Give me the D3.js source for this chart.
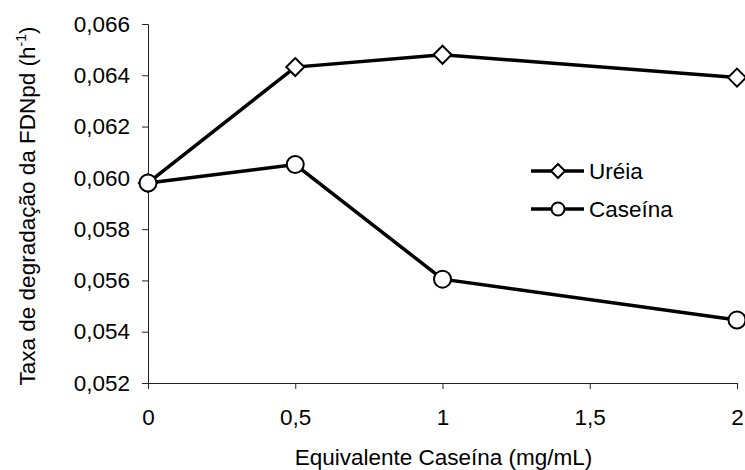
<!DOCTYPE html>
<html>
<head>
<meta charset="utf-8">
<script src="https://cdn.jsdelivr.net/npm/d3@7"></script>
<style>
  body { margin: 0; background: #fff; }
  text { font-family: "Liberation Sans", Arial, sans-serif; fill: #000; }
</style>
</head>
<body>
<div id="wrapper"></div>
<script>
// data
var doses = [0, 0.5, 1, 2];
var ureia = [0.0598, 0.06432, 0.0648, 0.06391];
var caseina = [0.0598, 0.06052, 0.05605, 0.05446];
var xTicks = [0, 0.5, 1, 1.5, 2];
var yTicks = [0.052, 0.054, 0.056, 0.058, 0.060, 0.062, 0.064, 0.066];
var seriesNames = ["Uréia", "Caseína"];

var dimension = {
    width: 745,
    height: 470,
    fontSize: "22.5px",
    margin: { top: 24, left: 148, bottom: 87, right: 8 }
};
dimension.boundedWidth = dimension.width - dimension.margin.left - dimension.margin.right;
dimension.boundedHeight = dimension.height - dimension.margin.top - dimension.margin.bottom;

const svg = d3.select("#wrapper")
    .append("svg")
    .attr("width", dimension.width)
    .attr("height", dimension.height);

const bounded = svg.append("g")
    .attr("transform", `translate(${dimension.margin.left},${dimension.margin.top})`);

const xScaler = d3.scaleLinear().domain([0, 2]).range([0, dimension.boundedWidth]);
const yScaler = d3.scaleLinear().domain([0.052, 0.066]).range([dimension.boundedHeight, 0]);

const yAxis = bounded.append("g")
    .call(d3.axisLeft(yScaler).tickValues(yTicks).tickSize(6).tickPadding(12)
        .tickFormat(d => d3.format(".3f")(d).replace(".", ",")));
const xAxis = bounded.append("g")
    .attr("transform", `translate(0,${dimension.boundedHeight})`)
    .call(d3.axisBottom(xScaler).tickValues(xTicks).tickSize(6).tickPadding(20)
        .tickFormat(d => String(d).replace(".", ",")));

[yAxis, xAxis].forEach(a => {
    a.select(".domain").attr("stroke", "#222").attr("stroke-width", 1);
    a.selectAll(".tick line").attr("stroke", "#222");
    a.selectAll(".tick text").style("font-size", dimension.fontSize).attr("fill", "#000");
});

// axis titles
svg.append("text")
    .attr("x", dimension.margin.left + dimension.boundedWidth / 2 + 1)
    .attr("y", 465)
    .attr("text-anchor", "middle")
    .style("font-size", dimension.fontSize)
    .text("Equivalente Caseína (mg/mL)");

const yTitle = svg.append("text")
    .attr("transform", "translate(35,206) rotate(-90)")
    .attr("text-anchor", "middle")
    .style("font-size", dimension.fontSize);
yTitle.append("tspan").text("Taxa de degradação da FDNpd (h");
yTitle.append("tspan").attr("dy", -9).style("font-size", "14px").text("-1");
yTitle.append("tspan").attr("dy", 9).text(")");

const line = d3.line().x((d, i) => xScaler(doses[i])).y(d => yScaler(d));

function drawSeries(values, shape) {
    bounded.append("path")
        .datum(values)
        .attr("d", line)
        .attr("fill", "none")
        .attr("stroke", "#000")
        .attr("stroke-width", 3.5);
    const g = bounded.append("g");
    if (shape === "diamond") {
        g.selectAll("path")
            .data(values)
            .enter()
            .append("path")
            .attr("d", "M0,-9L9,0L0,9L-9,0Z")
            .attr("transform", (d, i) => `translate(${xScaler(doses[i])},${yScaler(d)})`)
            .attr("fill", "#fff")
            .attr("stroke", "#000")
            .attr("stroke-width", 2);
    } else {
        g.selectAll("circle")
            .data(values)
            .enter()
            .append("circle")
            .attr("r", 8.5)
            .attr("cx", (d, i) => xScaler(doses[i]))
            .attr("cy", d => yScaler(d))
            .attr("fill", "#fff")
            .attr("stroke", "#000")
            .attr("stroke-width", 2);
    }
}

drawSeries(ureia, "diamond");
drawSeries(caseina, "circle");

// legend
const legend = svg.append("g").attr("transform", "translate(531,171)");
seriesNames.forEach((name, i) => {
    const row = legend.append("g").attr("transform", `translate(0,${i * 38})`);
    row.append("line")
        .attr("x1", 0).attr("x2", 53)
        .attr("stroke", "#000").attr("stroke-width", 3.5);
    if (i === 0) {
        row.append("path")
            .attr("d", "M0,-7L7,0L0,7L-7,0Z")
            .attr("transform", "translate(27,0)")
            .attr("fill", "#fff").attr("stroke", "#000").attr("stroke-width", 2);
    } else {
        row.append("circle")
            .attr("cx", 27).attr("r", 6.5)
            .attr("fill", "#fff").attr("stroke", "#000").attr("stroke-width", 2);
    }
    row.append("text")
        .attr("x", 58)
        .attr("y", 8)
        .style("font-size", dimension.fontSize)
        .text(name);
});
</script>
</body>
</html>
